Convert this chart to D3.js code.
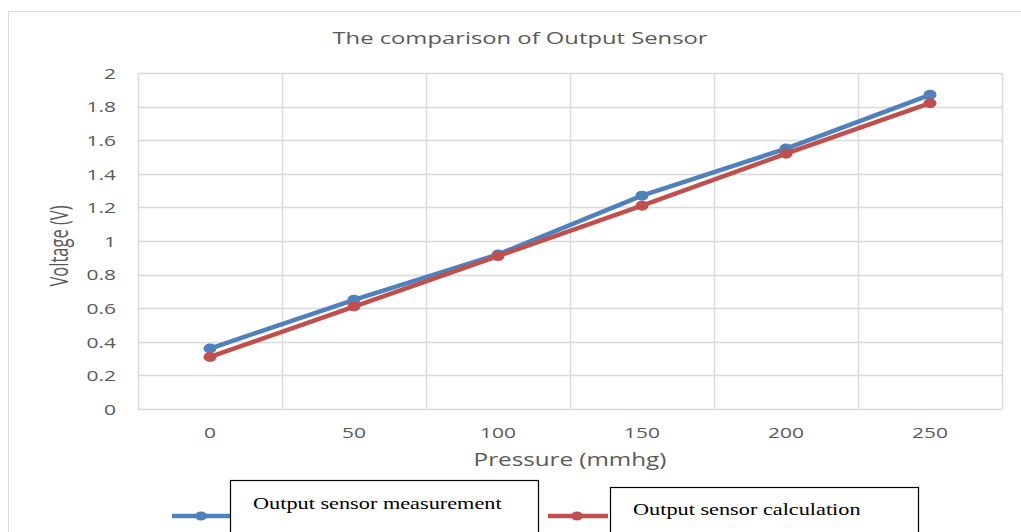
<!DOCTYPE html>
<html>
<head>
<meta charset="utf-8">
<title>Output Sensor</title>
<script src="https://cdn.jsdelivr.net/npm/d3@7"></script>
<style>
  body { margin: 0; background: #fff; }
  svg { display: block; }
</style>
</head>
<body>
<svg width="1021" height="532"></svg>
<script>

// data
var pressure = ["0", "50", "100", "150", "200", "250"];
var measurement = [0.36, 0.65, 0.92, 1.27, 1.55, 1.87];
var calculation = [0.31, 0.61, 0.91, 1.21, 1.52, 1.82];
var yTicks = [0, 0.2, 0.4, 0.6, 0.8, 1, 1.2, 1.4, 1.6, 1.8, 2];
var seriesNames = ["Output sensor measurement", "Output sensor calculation"];
var seriesColors = ["#4f81bd", "#c0504d"];

var svg = d3.select("svg"),
    sx = 1.4,   // the picture is stretched sideways
    margin = {top: 73, right: 19, bottom: 123, left: 138},
    width = +svg.attr("width") - margin.left - margin.right,
    height = +svg.attr("height") - margin.top - margin.bottom;

// chart border
svg.append("rect")
    .attr("x", 8.5).attr("y", 11.5)
    .attr("width", 1100).attr("height", 600)
    .attr("fill", "none").attr("stroke", "#d9d9d9");

var g = svg.append("g").attr("transform", "translate(" + margin.left + "," + margin.top + ")");

var x = d3.scaleBand().domain(pressure).range([0, width]).padding(0);
var y = d3.scaleLinear().domain([0, 2]).range([height, 0]);

// horizontal grid
g.append("g")
    .selectAll("line")
    .data(yTicks)
  .enter().append("line")
    .attr("x1", 0).attr("x2", width)
    .attr("y1", function(d) { return Math.round(y(d)) + 0.5; })
    .attr("y2", function(d) { return Math.round(y(d)) + 0.5; })
    .attr("stroke", "#d9d9d9").attr("stroke-width", 1.5);

// vertical grid at category edges
var edges = pressure.map(function(d) { return x(d); }).concat([width]);
g.append("g")
    .selectAll("line")
    .data(edges)
  .enter().append("line")
    .attr("x1", function(d) { return Math.round(d) + 0.5; })
    .attr("x2", function(d) { return Math.round(d) + 0.5; })
    .attr("y1", 0).attr("y2", height)
    .attr("stroke", "#d9d9d9").attr("stroke-width", 1.5);

// y tick labels
var yAxis = g.append("g")
    .call(d3.axisLeft(y).tickValues(yTicks).tickSize(0).tickPadding(0).tickFormat(d3.format("~g")));
yAxis.select(".domain").remove();
yAxis.selectAll("text")
    .attr("x", -22 / sx)
    .attr("dy", "0.35em")
    .attr("transform", "scale(" + sx + ",1)")
    .attr("fill", "#595959")
    .style("font", "15px 'Open Sans'");

// x tick labels
var xAxis = g.append("g")
    .attr("transform", "translate(0," + height + ")")
    .call(d3.axisBottom(x).tickSize(0).tickPadding(0));
xAxis.select(".domain").remove();
xAxis.selectAll("text")
    .attr("y", 24)
    .attr("dy", "0.35em")
    .attr("transform", "scale(" + sx + ",1)")
    .attr("fill", "#595959")
    .style("font", "15px 'Open Sans'");

// lines and markers
var line = d3.line()
    .x(function(d, i) { return x(pressure[i]) + x.bandwidth() / 2; })
    .y(function(d) { return y(d); });

[measurement, calculation].forEach(function(values, k) {
  g.append("path")
      .datum(values)
      .attr("d", line)
      .attr("fill", "none")
      .attr("stroke", seriesColors[k])
      .attr("stroke-width", 4.5)
      .attr("stroke-linejoin", "round");
  g.selectAll(".dot" + k)
      .data(values)
    .enter().append("ellipse")
      .attr("cx", function(d, i) { return x(pressure[i]) + x.bandwidth() / 2; })
      .attr("cy", function(d) { return y(d); })
      .attr("rx", 6.5).attr("ry", 5)
      .attr("fill", seriesColors[k]);
});

// title
svg.append("text")
    .attr("transform", "translate(520,44) scale(" + sx + ",1)")
    .attr("text-anchor", "middle")
    .attr("fill", "#595959")
    .style("font", "17px 'Open Sans'")
    .text("The comparison of Output Sensor");

// axis titles
svg.append("text")
    .attr("transform", "translate(" + (margin.left + width / 2) + ",466) scale(" + sx + ",1)")
    .attr("text-anchor", "middle")
    .attr("fill", "#595959")
    .style("font", "17.3px 'Open Sans'")
    .text("Pressure (mmhg)");

svg.append("text")
    .attr("transform", "translate(68,246) scale(1.5,1) rotate(-90)")
    .attr("text-anchor", "middle")
    .attr("fill", "#595959")
    .style("font", "16.5px 'Open Sans'")
    .text("Voltage (V)");

// legend: line samples plus boxed labels
var legend = [
  {lx: 172, box: [230, 480, 308], tx: 253, ty: 509},
  {lx: 548, box: [610, 487, 308], tx: 633, ty: 515}
];
legend.forEach(function(l, k) {
  svg.append("line")
      .attr("x1", l.lx).attr("x2", l.lx + 60)
      .attr("y1", 516).attr("y2", 516)
      .attr("stroke", seriesColors[k]).attr("stroke-width", 4.5);
  svg.append("ellipse")
      .attr("cx", l.lx + 29).attr("cy", 516)
      .attr("rx", 6).attr("ry", 4.5)
      .attr("fill", seriesColors[k]);
  svg.append("rect")
      .attr("x", l.box[0] + 0.5).attr("y", l.box[1] + 0.5)
      .attr("width", l.box[2]).attr("height", 80)
      .attr("fill", "#fff").attr("stroke", "#000").attr("stroke-width", 1.2);
  svg.append("text")
      .attr("transform", "translate(" + l.tx + "," + l.ty + ") scale(1.35,1)")
      .attr("fill", "#000")
      .style("font", "16.5px 'Liberation Serif'")
      .text(seriesNames[k]);
});

</script>
</body>
</html>
